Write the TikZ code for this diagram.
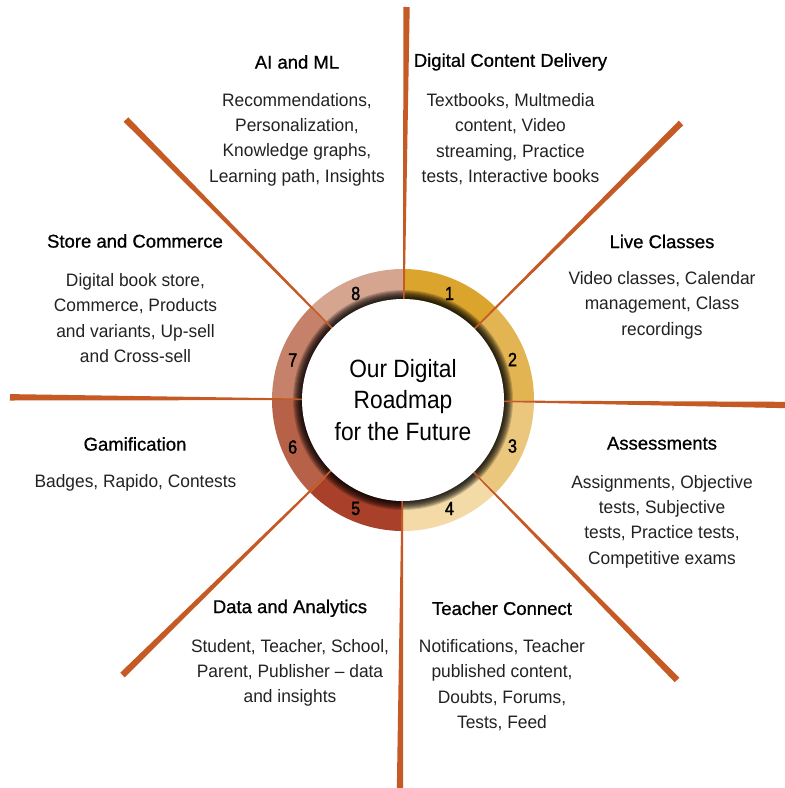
\documentclass[tikz,border=0pt]{standalone}
\usepackage{fontspec}
\setmainfont{Liberation Sans}
\newfontfamily\bodyf[FakeStretch=0.965]{Liberation Sans}
\newfontfamily\titlef[FakeBold=0.8]{Liberation Sans}
\newfontfamily\centerf[FakeStretch=0.91]{Liberation Sans}
\newfontfamily\numf[FakeStretch=0.85,FakeBold=1.6]{Liberation Sans}
\usetikzlibrary{calc}
\definecolor{lineC}{HTML}{C65A25}
\definecolor{segA}{HTML}{DBA42C}
\definecolor{segB}{HTML}{E3B552}
\definecolor{segC}{HTML}{EBC77E}
\definecolor{segD}{HTML}{F3DAA6}
\definecolor{segE}{HTML}{A8402A}
\definecolor{segF}{HTML}{B66148}
\definecolor{segG}{HTML}{C58169}
\definecolor{segH}{HTML}{D5A590}
\definecolor{bodyC}{HTML}{222222}
\begin{document}
\begin{tikzpicture}[x=1pt,y=1pt,
  titlenode/.style={font=\titlef\fontsize{18.5}{22}\selectfont, inner sep=0pt, align=center, text=black},
  bodynode/.style={font=\bodyf\fontsize{18}{25.3}\selectfont, inner sep=0pt, align=center, text=bodyC},
  numnode/.style={font=\numf\fontsize{19}{22}\selectfont, inner sep=0pt, text=black},
  hubnode/.style={circle, fill=white, minimum size=202pt, inner sep=0pt, align=center,
    font=\centerf\fontsize{25}{31.5}\selectfont, text=black},
  raystyle/.style={fill=lineC}]
\useasboundingbox (0,0) rectangle (785,-788);
\fill[white] (0,0) rectangle (785,-788);
\coordinate (c) at (403,-400);
% ring segments
\foreach \a/\b/\col in {90/45/segA, 45/0/segB, 0/-45/segC, -45/-90/segD,
                        -90/-135/segE, -135/-180/segF, 180/135/segG, 135/90/segH}
  \fill[\col] ($(c)+(\a:131)$) arc[start angle=\a, end angle=\b, radius=131]
     -- ($(c)+(\b:101)$) arc[start angle=\b, end angle=\a, radius=101] -- cycle;
% inner shadow
\foreach \r in {110,109,108,107,106,105,104,103,102}
  \fill[black, opacity=0.17] (c) circle[radius=\r];
% ray end points
\coordinate (e1) at (406.5,-7);
\coordinate (e2) at (681,-123);
\coordinate (e3) at (787,-405);
\coordinate (e4) at (677,-680);
\coordinate (e5) at (400,-790);
\coordinate (e6) at (122.5,-675);
\coordinate (e7) at (10,-397.3);
\coordinate (e8) at (126,-119.5);
\foreach \i in {1,...,8} {
  \coordinate (s\i) at ($(c)!101pt!(e\i)$);
  \fill[raystyle] ($(s\i)!0.75pt!90:(e\i)$) -- ($(e\i)!3.2pt!-90:(s\i)$)
     -- ($(e\i)!3.2pt!90:(s\i)$) -- ($(s\i)!0.75pt!-90:(e\i)$) -- cycle;
}
% hub
\node[hubnode] (hub) at (c) {Our Digital\\Roadmap\\for the Future};
% numbers
\node[numnode] (n1) at (449.5,-293.5) {1};
\node[numnode] (n2) at (512.5,-359.5) {2};
\node[numnode] (n3) at (512.5,-446) {3};
\node[numnode] (n4) at (449.5,-508.5) {4};
\node[numnode] (n5) at (355.7,-508.5) {5};
\node[numnode] (n6) at (292.7,-447) {6};
\node[numnode] (n7) at (292.7,-360) {7};
\node[numnode] (n8) at (355.7,-293.5) {8};
% text blocks
\node[titlenode] (t8) at (297,-62) {AI and ML};
\node[bodynode] (b8) at (297,-139.5) {Recommendations,\\Personalization,\\Knowledge graphs,\\Learning path, Insights};
\node[titlenode] (t1) at (510.5,-62) {Digital Content Delivery};
\node[bodynode] (b1) at (510.5,-139) {Textbooks, Multmedia\\content, Video\\streaming, Practice\\tests, Interactive books};
\node[titlenode] (t2) at (662,-241.5) {Live Classes};
\node[bodynode] (b2) at (662,-305.3) {Video classes, Calendar\\management, Class\\recordings};
\node[titlenode] (t7) at (135,-241) {Store and Commerce};
\node[bodynode] (b7) at (135.5,-318) {Digital book store,\\Commerce, Products\\and variants, Up-sell\\and Cross-sell};
\node[titlenode] (t6) at (135,-444) {Gamification};
\node[bodynode] (b6) at (135.5,-483.3) {Badges, Rapido, Contests};
\node[titlenode] (t3) at (662,-443.3) {Assessments};
\node[bodynode] (b3) at (662,-521.5) {Assignments, Objective\\tests, Subjective\\tests, Practice tests,\\Competitive exams};
\node[titlenode] (t5) at (290,-608.3) {Data and Analytics};
\node[bodynode] (b5) at (290,-673) {Student, Teacher, School,\\Parent, Publisher – data\\and insights};
\node[titlenode] (t4) at (502,-608.3) {Teacher Connect};
\node[bodynode] (b4) at (502,-685) {Notifications, Teacher\\published content,\\Doubts, Forums,\\Tests, Feed};
\end{tikzpicture}
\end{document}
